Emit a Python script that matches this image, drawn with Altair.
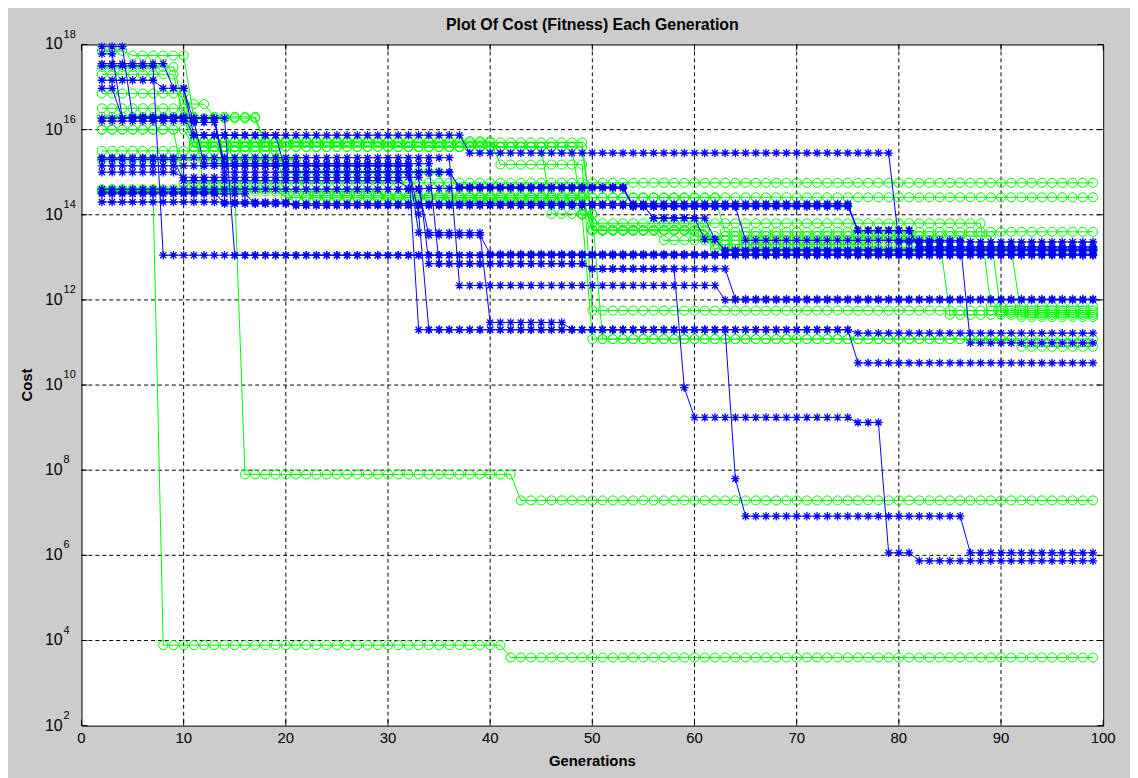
import altair as alt
import pandas as pd

# Generations plotted for every run
GENERATIONS = list(range(2, 100))

# Each run: list of (first generation of a level, log10(cost) of that level)
BLUE_STEPS = [
    [(2, 17.95), (5, 16.30), (11, 15.87), (38, 15.45), (80, 13.36)],
    [(2, 17.78), (4, 16.27), (14, 15.15), (33, 14.02), (34, 11.30), (76, 10.52)],
    [(2, 17.55), (9, 16.97), (11, 15.87), (20, 15.00), (37, 14.65), (54, 14.22), (76, 13.63), (82, 13.18)],
    [(2, 17.50), (8, 13.05)],
    [(2, 17.16), (8, 16.97), (11, 16.17), (14, 15.20), (35, 12.85), (50, 12.73), (59, 9.94), (60, 9.24),
     (76, 9.12), (79, 6.06), (82, 5.87)],
    [(2, 16.97), (4, 16.27), (14, 15.00), (37, 14.65), (54, 14.19), (76, 13.63), (82, 13.22)],
    [(2, 16.27), (15, 13.05)],
    [(2, 15.34), (37, 12.34), (63, 12.00)],
    [(2, 15.15), (33, 13.58), (40, 11.47), (48, 11.30), (64, 7.80), (65, 6.92), (87, 6.06)],
    [(2, 14.53), (14, 14.26), (76, 13.63), (82, 13.25)],
    [(2, 14.49), (17, 14.26), (21, 14.22), (56, 13.92), (62, 13.42), (63, 13.18)],
    [(2, 15.00), (10, 14.88), (34, 12.85), (50, 12.73), (64, 12.02)],
    [(2, 15.30), (10, 14.80), (32, 14.62), (54, 14.19), (65, 13.40), (87, 10.99)],
    [(2, 14.60), (34, 13.52), (40, 13.08)],
    [(2, 16.20), (12, 15.20), (33, 11.30), (76, 11.22)],
    [(2, 14.30), (21, 14.22), (56, 13.92), (61, 13.42), (63, 13.15)],
]

GREEN_STEPS = [
    [(2, 17.85), (5, 17.74), (11, 16.27), (18, 15.60), (20, 14.41)],
    [(2, 17.47), (10, 16.60), (13, 16.30), (18, 15.70), (50, 13.80), (89, 11.85)],
    [(2, 14.57), (8, 3.89), (42, 3.60)],
    [(2, 16.50), (11, 15.73), (41, 15.18), (50, 11.75)],
    [(2, 17.30), (10, 16.30), (12, 14.57), (16, 7.90), (43, 7.29)],
    [(2, 16.85), (11, 15.70), (30, 15.59), (46, 14.02), (50, 11.08), (92, 10.90)],
    [(2, 16.00), (10, 14.75)],
    [(2, 14.60), (20, 14.40), (50, 13.63), (62, 13.20), (92, 11.60)],
    [(2, 15.50), (20, 15.00), (36, 14.30), (49, 14.00), (51, 13.63), (60, 13.50), (90, 11.70)],
    [(2, 14.55), (30, 14.40), (63, 13.60)],
    [(2, 16.30), (11, 15.59), (50, 13.65), (62, 13.30), (78, 13.18)],
    [(2, 16.00), (11, 15.60), (49, 14.02), (51, 11.08)],
    [(2, 15.30), (22, 14.45), (50, 13.63), (57, 13.40), (85, 11.65)],
]

X_TICKS = list(range(0, 101, 10))
X_GRID = list(range(10, 100, 10))
Y_EXPONENTS = list(range(2, 19, 2))
Y_GRID_EXPONENTS = list(range(4, 17, 2))

TITLE = "Plot Of Cost (Fitness) Each Generation"
X_TITLE = "Generations"
Y_TITLE = "Cost"

W, H = 1029, 686
FONT = "Liberation Sans"


def expand(steps_list, prefix):
    rows = []
    for i, steps in enumerate(steps_list):
        for g in GENERATIONS:
            level = [e for s, e in steps if s <= g][-1]
            rows.append({"series": f"{prefix}{i}", "gen": g, "cost": 10.0 ** level})
    return pd.DataFrame(rows)


blue_df = expand(BLUE_STEPS, "b")
green_df = expand(GREEN_STEPS, "g")
ylab_df = pd.DataFrame({"cost": [10.0 ** e for e in Y_EXPONENTS], "exp": [str(e) for e in Y_EXPONENTS]})
ygrid_df = pd.DataFrame({"cost": [10.0 ** e for e in Y_GRID_EXPONENTS]})
xt_df = pd.DataFrame({"gen": X_TICKS, "lab": [str(v) for v in X_TICKS]})
xgrid_df = pd.DataFrame({"gen": X_GRID})
text_df = pd.DataFrame({"title": [TITLE], "xt": [X_TITLE], "yt": [Y_TITLE]})

xscale = alt.Scale(domain=[0, 100], nice=False, zero=False)
yscale = alt.Scale(type="log", domain=[1e2, 1e18], nice=False)
X = alt.X("gen:Q", scale=xscale, axis=None)
Y = alt.Y("cost:Q", scale=yscale, axis=None)

ASTERISK = "M0,-1L0,1M-1,0L1,0M-0.72,-0.72L0.72,0.72M-0.72,0.72L0.72,-0.72"
DASH = [4, 3]

xgrid = alt.Chart(xgrid_df).mark_rule(color="black", strokeWidth=1, strokeDash=DASH).encode(
    x=X, y=alt.value(0), y2=alt.value(H))
ygrid = alt.Chart(ygrid_df).mark_rule(color="black", strokeWidth=1, strokeDash=DASH).encode(
    y=Y, x=alt.value(0), x2=alt.value(W))

green_lines = alt.Chart(green_df).mark_line(color="#00ff00", strokeWidth=1).encode(
    x=X, y=Y, detail="series:N", order="gen:Q")
green_pts = alt.Chart(green_df).mark_point(
    shape="circle", filled=False, size=84, color="#00ff00", strokeWidth=1, opacity=1
).encode(x=X, y=Y)
blue_lines = alt.Chart(blue_df).mark_line(color="#0000ff", strokeWidth=1).encode(
    x=X, y=Y, detail="series:N", order="gen:Q")
blue_pts = alt.Chart(blue_df).mark_point(
    shape=ASTERISK, filled=False, size=72, color="#0000ff", strokeWidth=1.3, opacity=1
).encode(x=X, y=Y)

# inward tick marks on all four sides
xt_bottom = alt.Chart(xt_df).mark_rule(color="black", strokeWidth=1).encode(
    x=X, y=alt.value(H), y2=alt.value(H - 6))
xt_top = alt.Chart(xt_df).mark_rule(color="black", strokeWidth=1).encode(
    x=X, y=alt.value(0), y2=alt.value(6))
yt_left = alt.Chart(ylab_df).mark_rule(color="black", strokeWidth=1).encode(
    y=Y, x=alt.value(0), x2=alt.value(6))
yt_right = alt.Chart(ylab_df).mark_rule(color="black", strokeWidth=1).encode(
    y=Y, x=alt.value(W), x2=alt.value(W - 6))

# tick labels
xlab = alt.Chart(xt_df).mark_text(
    align="center", baseline="top", font=FONT, fontSize=15, color="black"
).encode(x=X, y=alt.value(H + 5), text="lab:N")
ylab_base = alt.Chart(ylab_df).mark_text(
    align="right", baseline="middle", font=FONT, fontSize=16, color="black"
).encode(y=Y, x=alt.value(-19), text=alt.value("10"))
ylab_exp = alt.Chart(ylab_df).mark_text(
    align="left", baseline="middle", font=FONT, fontSize=11, color="black", dx=1, dy=-10
).encode(y=Y, x=alt.value(-19), text="exp:N")

# titles
title_txt = alt.Chart(text_df).mark_text(
    align="center", baseline="bottom", font=FONT, fontSize=16, fontWeight="bold", color="black"
).encode(x=alt.value(W / 2), y=alt.value(-12), text="title:N")
xtitle_txt = alt.Chart(text_df).mark_text(
    align="center", baseline="top", font=FONT, fontSize=15, fontWeight="bold", color="black"
).encode(x=alt.value(W / 2), y=alt.value(H + 29), text="xt:N")
ytitle_txt = alt.Chart(text_df).mark_text(
    align="center", baseline="middle", font=FONT, fontSize=15, fontWeight="bold", color="black",
    angle=270
).encode(x=alt.value(-55), y=alt.value(H / 2), text="yt:N")

chart = alt.layer(
    xgrid, ygrid, green_lines, green_pts, blue_lines, blue_pts,
    xt_bottom, xt_top, yt_left, yt_right, xlab, ylab_base, ylab_exp,
    title_txt, xtitle_txt, ytitle_txt
).properties(
    width=W, height=H,
    background="#cccccc",
    padding={"left": 74, "top": 34, "right": 27, "bottom": 50},
    autosize=alt.AutoSizeParams(type="none"),
).configure_view(fill="white", stroke="black", strokeWidth=1)

chart.save("out.html", embed_options={"renderer": "svg", "actions": False})
